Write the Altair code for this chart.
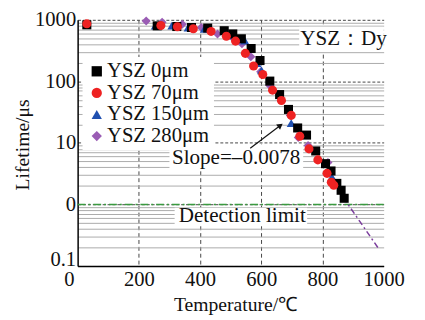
import altair as alt
import pandas as pd

# ---------------- data ----------------
series_names = ["YSZ 0μm", "YSZ 70μm", "YSZ 150μm", "YSZ 280μm"]
series_colors = ["#000000", "#ee2222", "#2050b0", "#9a5cb4"]
series_shapes = ["square", "circle", "triangle-up", "diamond"]
draw_order = [2, 3, 1, 0]

temp_0 = [30, 260, 324, 372, 425, 479, 507, 535, 567, 596, 628, 660, 689, 719, 748, 778, 810, 828, 847, 861, 871]
life_0 = [830, 798, 778, 750, 734, 665, 590, 492, 342, 218, 101, 61, 35, 17.5, 13.4, 7.4, 4.6, 3.5, 2.2, 1.7, 1.26]

temp_70 = [30, 272, 326, 378, 436, 486, 516, 548, 575, 605, 637, 666, 698, 726, 756, 785, 815, 829, 837]
life_70 = [860, 807, 770, 716, 648, 541, 451, 285, 178, 129, 72, 49, 28, 12.8, 8.0, 5.3, 3.2, 2.3, 2.05]

temp_150 = [254, 308, 361, 414, 494, 546, 586, 601, 666, 698, 831]
life_150 = [807, 807, 750, 716, 561, 462, 198, 151, 54, 21, 2.8]

temp_280 = [224, 276, 342, 404, 457, 507, 537, 566, 598, 628, 695, 721, 753, 818]
life_280 = [957, 912, 849, 750, 590, 510, 410, 252, 143, 86, 28, 12.2, 9.1, 4.8]

slope_temp = [868, 984]
slope_life = [1.3, 0.19]

detect_temp = [0, 1000]
detect_life = [1, 1]

arrow_temp = [564, 660]
arrow_life = [8.2, 18.8]

x_ticks = [0, 200, 400, 600, 800, 1000]
y_decades = [0.1, 1, 10, 100, 1000]
y_ticks = sorted(set([round(d * k, 6) for d in [0.1, 1, 10, 100] for k in range(1, 10)] + [1000]))

notes_text = ["YSZ：Dy", "Slope=–0.0078", "Detection limit"]
notes_temp = [869, 518, 538]
notes_life = [479, 5.67, 0.645]
box_temp = [724, 300, 317]
box_temp2 = [1000, 737, 750]
box_life = [769, 9.5, 0.887]
box_life2 = [299, 3.8, 0.46]

FONT = "Liberation Serif"

# ---------------- tables ----------------
rows = []
for name, ts, ls, o in zip(series_names, [temp_0, temp_70, temp_150, temp_280],
                           [life_0, life_70, life_150, life_280], draw_order):
    for t, l in zip(ts, ls):
        rows.append({"series": name, "temp": t, "life": l, "ord": o})
pts = pd.DataFrame(rows)

x_scale = alt.Scale(domain=[0, 1000], nice=False)
y_scale = alt.Scale(type="log", domain=[0.1, 1000], nice=False)

x_axis = alt.Axis(
    values=x_ticks, grid=True, format="d",
    gridDash=[4, 3], gridColor="#444444", gridWidth=1,
    gridOpacity=alt.condition("datum.value == 0 || datum.value == 1000", alt.value(0), alt.value(1)),
    ticks=False, labelPadding=3, labelFont=FONT, labelFontSize=21, labelColor="#111",
    labelOffset=alt.condition("datum.value == 0", alt.value(-9), alt.value(0)),
    labelFlush=False,
    domainColor="#000", domainWidth=1.5,
    titleFont=FONT, titleFontSize=20, titleFontWeight="normal", titleColor="#111",
    titleX=161, titleY=45, titleBaseline="alphabetic", titleAnchor="middle",
)
y_axis = alt.Axis(
    values=y_ticks, grid=True,
    gridDash=alt.condition("indexof([0.1,1,10,100,1000], datum.value) >= 0", alt.value([3, 2]), alt.value([])),
    gridColor=alt.condition("indexof([0.1,1,10,100,1000], datum.value) >= 0", alt.value("#444444"), alt.value("#aaaaaa")),
    gridWidth=1,
    ticks=False, labelPadding=2, labelFont=FONT, labelFontSize=21, labelColor="#111",
    labelOverlap=False, labelFlush=False,
    labelOffset=alt.condition("datum.value == 0.1", alt.value(-7), alt.value(0)),
    labelExpr="indexof([0.1,1,10,100,1000], datum.value) >= 0 ? (datum.value == 1 ? '0' : format(datum.value, '')) : ''",
    domainColor="#000", domainWidth=1.5,
    titleFont=FONT, titleFontSize=20, titleFontWeight="normal", titleColor="#111",
    titleX=-50, titleY=127, titleBaseline="alphabetic", titleAngle=270,
)

def X():
    return alt.X("temp:Q", scale=x_scale, axis=x_axis, title="Temperature/℃")

def Y():
    return alt.Y("life:Q", scale=y_scale, axis=y_axis, title="Lifetime/μs")

boxes = pd.DataFrame({"temp": box_temp, "temp2": box_temp2, "life": box_life, "life2": box_life2})
notes = pd.DataFrame({"temp": notes_temp, "life": notes_life, "txt": notes_text})
slope = pd.DataFrame({"temp": slope_temp, "life": slope_life})
detect = pd.DataFrame({"temp": detect_temp, "life": detect_life})
arrow = pd.DataFrame({"temp": arrow_temp, "life": arrow_life})
head = arrow.iloc[[1]]

box_layer = alt.Chart(boxes).mark_rect(color="white").encode(x=X(), x2="temp2:Q", y=Y(), y2="life2:Q")
note_layer = alt.Chart(notes).mark_text(font=FONT, fontSize=21.5, color="#111", baseline="middle", align="center").encode(
    x=X(), y=Y(), text="txt:N")
detect_layer = alt.Chart(detect).mark_line(color="#3a9a40", strokeDash=[8, 3, 2, 3], strokeWidth=1.5).encode(x=X(), y=Y())
slope_layer = alt.Chart(slope).mark_line(color="#7a3c9c", strokeDash=[6, 3, 2, 3], strokeWidth=1.5).encode(x=X(), y=Y())
arrow_layer = alt.Chart(arrow).mark_line(color="#111", strokeWidth=1.2).encode(x=X(), y=Y())
head_layer = alt.Chart(head).mark_point(shape="triangle", filled=True, angle=53, size=45, color="#111", opacity=1).encode(x=X(), y=Y())

point_layer = alt.Chart(pts).mark_point(filled=True, size=85, opacity=1).encode(
    x=X(), y=Y(),
    color=alt.Color("series:N", scale=alt.Scale(domain=series_names, range=series_colors),
                    legend=alt.Legend(title=None, orient="none", legendX=5, legendY=38,
                                      fillColor="white", padding=4, symbolSize=110,
                                      labelFont=FONT, labelFontSize=21, labelColor="#111",
                                      labelOffset=0, rowPadding=0, symbolStrokeWidth=0,
                                      symbolOpacity=1)),
    shape=alt.Shape("series:N", scale=alt.Scale(domain=series_names, range=series_shapes)),
    order=alt.Order("ord:Q"),
)

chart = alt.layer(
    box_layer, note_layer, detect_layer, slope_layer, arrow_layer, head_layer, point_layer
).properties(
    width=312, height=251,
    padding={"left": 71, "top": 9, "right": 34, "bottom": 52},
    autosize=alt.AutoSizeParams(type="none"),
).configure_view(stroke=None)

chart.save("out.html", embed_options={"renderer": "svg", "actions": False})
